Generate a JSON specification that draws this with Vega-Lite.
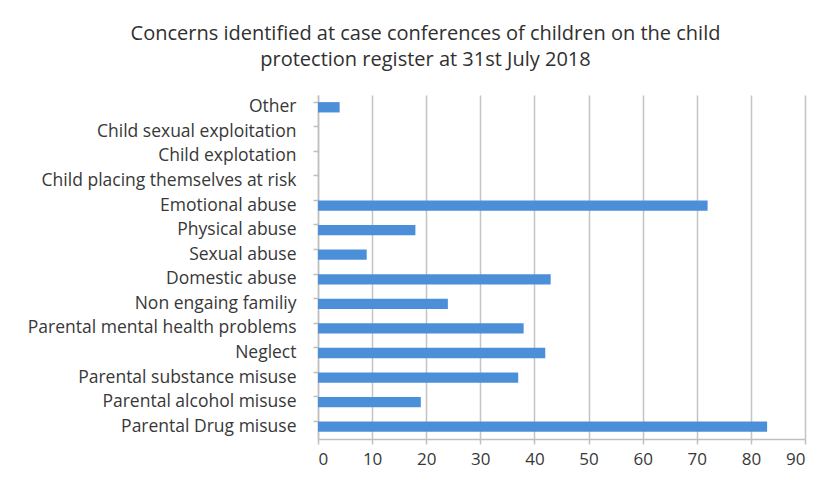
{
  "$schema": "https://vega.github.io/schema/vega-lite/v6.json",
  "width": 487,
  "height": 344,
  "autosize": {"type": "none"},
  "padding": {"left": 318, "top": 95, "right": 22, "bottom": 42},
  "background": "white",
  "title": {
    "text": ["Concerns identified at case conferences of children on the child", "protection register at 31st July 2018"],
    "font": "Open Sans",
    "fontSize": 20,
    "fontWeight": "normal",
    "color": "#303030",
    "lineHeight": 26,
    "anchor": "middle",
    "frame": "group",
    "dx": -136,
    "offset": 25
  },
  "data": {
    "values": [
      {"concern": "Other", "count": 4},
      {"concern": "Child sexual exploitation", "count": 0},
      {"concern": "Child explotation", "count": 0},
      {"concern": "Child placing themselves at risk", "count": 0},
      {"concern": "Emotional abuse", "count": 72},
      {"concern": "Physical abuse", "count": 18},
      {"concern": "Sexual abuse", "count": 9},
      {"concern": "Domestic abuse", "count": 43},
      {"concern": "Non engaing familiy", "count": 24},
      {"concern": "Parental mental health problems", "count": 38},
      {"concern": "Neglect", "count": 42},
      {"concern": "Parental substance misuse", "count": 37},
      {"concern": "Parental alcohol misuse", "count": 19},
      {"concern": "Parental Drug misuse", "count": 83}
    ]
  },
  "layer": [
    {
      "mark": {"type": "bar", "color": "#4a8fd8"},
      "encoding": {
        "y": {
          "field": "concern", "type": "nominal", "sort": null,
          "scale": {"paddingInner": 0.58, "paddingOuter": 0.29},
          "axis": {
            "title": null, "ticks": false, "labelPadding": 22, "labelLimit": 400,
            "labelFont": "Open Sans", "labelFontSize": 17.5, "labelColor": "#383838",
            "domainColor": "#bfbfbf", "domainWidth": 1.5, "grid": false
          }
        },
        "x": {
          "field": "count", "type": "quantitative",
          "scale": {"domain": [0, 90], "nice": false},
          "axis": {
            "title": null, "values": [0, 10, 20, 30, 40, 50, 60, 70, 80, 90],
            "labelFont": "Open Sans", "labelFontSize": 17, "labelColor": "#383838",
            "labelPadding": 7, "tickSize": 5, "tickColor": "#bfbfbf", "tickWidth": 1.5,
            "domainColor": "#bfbfbf", "domainWidth": 1.5,
            "grid": true, "gridColor": "#c4c4c4", "gridWidth": 1.5
          }
        }
      }
    },
    {
      "mark": {"type": "bar", "opacity": 0},
      "encoding": {
        "y": {
          "field": "concern", "type": "nominal", "sort": null,
          "axis": {
            "title": null, "orient": "left", "labels": false, "domain": false,
            "bandPosition": 0, "tickSize": 5, "tickColor": "#bfbfbf", "tickWidth": 1.5, "grid": false
          }
        },
        "x": {"field": "count", "type": "quantitative"}
      }
    }
  ],
  "resolve": {"axis": {"y": "independent"}},
  "config": {"view": {"stroke": null}}
}
